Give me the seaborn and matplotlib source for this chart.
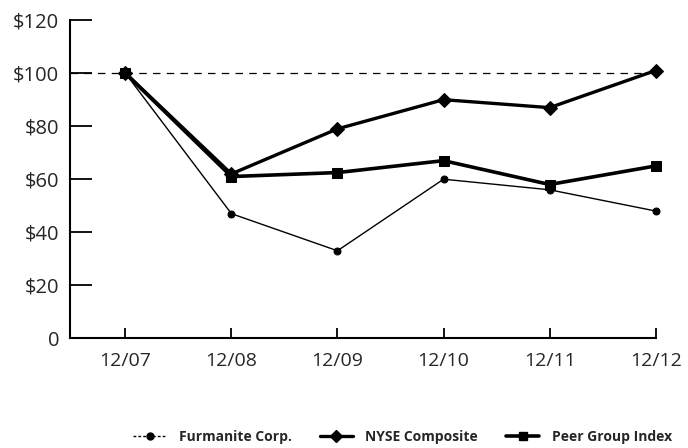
import matplotlib
matplotlib.use("Agg")
import matplotlib.pyplot as plt
import seaborn as sns
import pandas as pd
from matplotlib.lines import Line2D

periods = ["12/07", "12/08", "12/09", "12/10", "12/11", "12/12"]
furmanite = [100, 47, 33, 60, 56, 48]
nyse = [100, 62, 79, 90, 87, 101]
peer = [100, 61, 62.5, 67, 58, 65]
y_ticks = [0, 20, 40, 60, 80, 100, 120]
y_labels = ["0", "$20", "$40", "$60", "$80", "$100", "$120"]

sns.set_theme(style="white")
plt.rcParams["font.family"] = ["Open Sans", "DejaVu Sans"]

df = pd.DataFrame({
    "pos": list(range(len(periods))) * 3,
    "value": furmanite + nyse + peer,
    "series": ["Furmanite Corp."] * 6 + ["NYSE Composite"] * 6 + ["Peer Group Index"] * 6,
})

fig = plt.figure(figsize=(6.88, 4.48), dpi=100)
ax = fig.add_axes([0.102, 0.245, 0.851, 0.71])

styles = {
    "Furmanite Corp.": dict(lw=1.0, marker="o", ms=5),
    "NYSE Composite": dict(lw=2.4, marker="D", ms=7),
    "Peer Group Index": dict(lw=2.6, marker="s", ms=7),
}
for name, st in styles.items():
    sns.lineplot(data=df[df.series == name], x="pos", y="value", ax=ax,
                 color="black", linewidth=st["lw"], marker=st["marker"],
                 markersize=st["ms"], markeredgecolor="black", legend=False,
                 clip_on=False)

# $100 baseline
ax.axhline(100, color="black", lw=0.9, ls=(0, (6, 5)), zorder=0)

ax.set_xlim(-0.52, 5.0)
ax.set_ylim(0, 120)
ax.set_xticks(range(len(periods)))
ax.set_xticklabels(periods, fontsize=14)
ax.set_yticks(y_ticks)
ax.set_yticklabels(y_labels, fontsize=14.5)
ax.set_xlabel("")
ax.set_ylabel("")

for side in ["top", "right"]:
    ax.spines[side].set_visible(False)
for side in ["left", "bottom"]:
    ax.spines[side].set_color("black")
    ax.spines[side].set_linewidth(1.5)

ax.tick_params(axis="y", direction="in", length=16, width=1.3, color="black", pad=8, left=True)
ax.tick_params(axis="x", direction="in", length=7, width=1.3, color="black", pad=10, bottom=True)

handles = [
    Line2D([], [], color="black", lw=1.0, ls=(0, (2, 1.5)), marker="o", ms=5),
    Line2D([], [], color="black", lw=2.4, marker="D", ms=6),
    Line2D([], [], color="black", lw=2.6, marker="s", ms=6),
]
fig.legend(handles, list(styles.keys()), loc="center", ncol=3,
           bbox_to_anchor=(0.585, 0.025), frameon=False,
           prop={"weight": "bold", "size": 10}, handlelength=2.4,
           columnspacing=2.0, handletextpad=0.9)

fig.savefig("out.png", dpi=100)
